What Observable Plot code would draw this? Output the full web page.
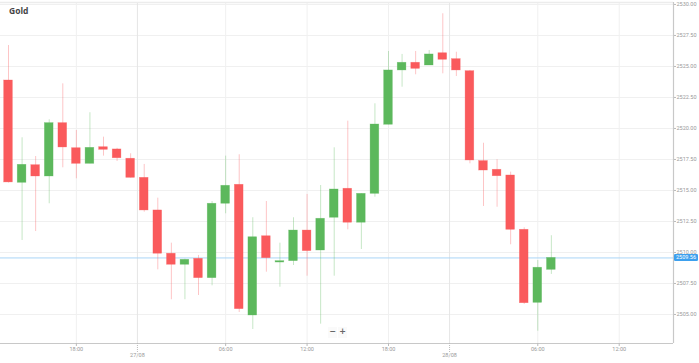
<!DOCTYPE html>
<html>
<head>
<meta charset="utf-8">
<script src="https://cdn.jsdelivr.net/npm/d3@7"></script>
<script src="https://cdn.jsdelivr.net/npm/@observablehq/plot@0.6"></script>
<style>
  html, body { margin: 0; padding: 0; background: #fff; }
  #wrap { position: relative; width: 699px; height: 363px; overflow: hidden; }
  #title { position: absolute; left: 9px; top: 5px; font: bold 8.5px "Open Sans", sans-serif; color: #444; }
  #zoomctl { position: absolute; left: 328px; top: 327px; display: flex; gap: 1px; }
  #zoomctl span { display: block; width: 9px; height: 11px; line-height: 11px; text-align: center;
    font: bold 8px "DejaVu Sans", sans-serif; color: #666; background: #fafafa; }
</style>
</head>
<body>
<div id="wrap">
  <div id="chart"></div>
  <div id="title">Gold</div>
  <div id="zoomctl"><span>−</span><span>+</span></div>
</div>
<script>
// Hourly candles (index = hour slot)
const opens  = [2523.87,2515.62,2517.04,2516.13,2520.43,2518.41,2517.15,2518.49,2518.31,2517.56,
                2516.02,2513.39,2509.90,2509.01,2509.49,2507.93,2513.93,2515.46,2504.92,2511.31,
                2509.19,2509.30,2511.77,2510.16,2512.80,2515.14,2512.40,2514.73,2520.30,2524.68,
                2525.30,2525.08,2526.07,2525.59,2524.62,2517.37,2516.67,2516.21,2511.83,2505.94,2508.60];
const highs  = [2526.69,2519.25,2517.74,2520.70,2523.60,2519.84,2521.27,2519.30,2518.40,2517.96,
                2517.10,2514.38,2510.75,2509.46,2509.76,2514.11,2517.77,2517.88,2512.80,2514.11,
                2510.75,2512.80,2514.68,2515.40,2518.44,2520.59,2514.73,2521.99,2526.21,2525.97,
                2526.21,2526.29,2529.25,2526.15,2524.68,2518.81,2517.48,2516.48,2511.99,2509.35,2511.35];
const lows   = [2515.60,2510.97,2511.69,2513.93,2516.83,2515.94,2517.15,2517.77,2517.34,2516.00,
                2513.25,2508.60,2506.19,2506.19,2506.53,2507.31,2513.12,2505.16,2503.79,2508.41,
                2507.20,2508.95,2508.09,2504.22,2508.09,2511.83,2510.24,2514.46,2520.30,2523.33,
                2524.33,2525.08,2524.41,2524.19,2517.15,2513.71,2513.65,2510.62,2505.81,2503.65,2508.23];
const closes = [2515.65,2517.07,2516.13,2520.43,2518.47,2517.15,2518.44,2518.28,2517.60,2516.02,
                2513.39,2509.90,2509.01,2509.41,2507.93,2513.93,2515.38,2505.43,2511.23,2509.54,
                2509.30,2511.77,2510.11,2512.72,2515.08,2512.40,2514.73,2520.32,2524.68,2525.30,
                2524.81,2525.97,2525.54,2524.68,2517.42,2516.61,2516.15,2511.83,2505.91,2508.77,2509.56];

const yTicks = [2505, 2507.5, 2510, 2512.5, 2515, 2517.5, 2520, 2522.5, 2525, 2527.5, 2530];
const timeTicks  = [5, 16, 22, 28, 39, 45];
const timeLabels = ["18:00", "06:00", "12:00", "18:00", "06:00", "12:00"];
const dateTicks  = [9.5, 32.5];
const dateLabels = ["27/08", "28/08"];

const RED = "#fa5a5c", GREEN = "#5cb85c";
const candles = opens.map((o, i) => ({i, open: o, high: highs[i], low: lows[i], close: closes[i],
  color: closes[i] >= o ? GREEN : RED}));
const last = candles[candles.length - 1];

const xDomain = [-0.59, 49.0];
const yDomain = [2502.66, 2530.16];
const timeMap = new Map(timeTicks.map((t, k) => [t, timeLabels[k]]));
const dateMap = new Map(dateTicks.map((t, k) => [t, dateLabels[k]]));

const plot = Plot.plot({
  width: 699, height: 363,
  marginLeft: 0, marginRight: 26, marginTop: 2, marginBottom: 20,
  style: {fontFamily: "Roboto, sans-serif", fontSize: "5.5px", color: "#999", background: "#fff"},
  x: {domain: xDomain, axis: null, label: null},
  y: {domain: yDomain, axis: null, label: null},
  marks: [
    Plot.ruleY(yTicks, {stroke: "#f0f0f0"}),
    Plot.ruleX(timeTicks, {stroke: "#f0f0f0"}),
    Plot.ruleX(dateTicks, {stroke: "#e6e6e6"}),
    Plot.ruleY([yDomain[1]], {stroke: "#ececec", strokeWidth: 1.5}),
    Plot.ruleY([last.close], {stroke: "#a9d5f7"}),
    Plot.ruleX(candles, {x: "i", y1: "low", y2: "high", stroke: "color", strokeOpacity: 0.35}),
    Plot.rect(candles, {x1: d => d.i - 0.32, x2: d => d.i + 0.32,
      y1: d => Math.min(d.open, d.close), y2: d => Math.max(d.open, d.close),
      fill: "color", stroke: "color", strokeOpacity: 0.5, strokeWidth: 0.6}),
    Plot.ruleX([xDomain[1]], {stroke: "#c8c8c8", strokeWidth: 1.2}),
    Plot.ruleY([yDomain[0]], {stroke: "#c8c8c8", strokeWidth: 1.2}),
    Plot.axisY(yTicks, {anchor: "right", tickSize: 2, tickPadding: 1, label: null,
      tickFormat: d => d.toFixed(2), stroke: "#bbb", fill: "#999"}),
    Plot.axisX(timeTicks, {anchor: "bottom", tickSize: 3, tickPadding: 1, label: null,
      tickFormat: d => timeMap.get(d), stroke: "#bbb", fill: "#999"}),
    Plot.axisX(dateTicks, {anchor: "bottom", tickSize: 9, tickPadding: 1, strokeDasharray: "1,1", label: null,
      tickFormat: d => dateMap.get(d), stroke: "#bbb", fill: "#999"})
  ]
});
document.getElementById("chart").appendChild(plot);

// Current price tag on the right axis, placed through the plot's own scales
const sx = plot.scale("x"), sy = plot.scale("y");
const px = sx.apply(xDomain[1]), py = sy.apply(last.close);
const svg = d3.select(plot);
const g = svg.append("g");
g.append("rect").attr("x", px + 1).attr("y", py - 3.5).attr("width", 24).attr("height", 7)
  .attr("rx", 1.2).attr("fill", "#3da0ee");
g.append("text").attr("x", px + 13).attr("y", py).attr("dy", "0.35em")
  .attr("text-anchor", "middle").attr("fill", "#fff").attr("font-size", "5.5px")
  .attr("font-family", "Roboto, sans-serif").text(last.close.toFixed(2));
</script>
</body>
</html>
